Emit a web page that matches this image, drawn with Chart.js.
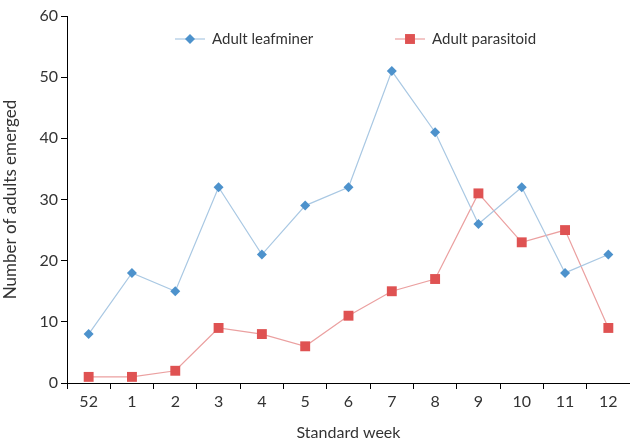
<!DOCTYPE html>
<html><head><meta charset="utf-8">
<script src="https://cdn.jsdelivr.net/npm/chart.js@4"></script>
<style>html,body{margin:0;padding:0;background:#fff}#wrap{width:630px;height:442px;position:relative}</style>
</head><body><div id="wrap"><canvas id="c" width="630" height="442"></canvas></div>
<script>
const weeks = ['52','1','2','3','4','5','6','7','8','9','10','11','12'];
const leafminer = [8,18,15,32,21,29,32,51,41,26,32,18,21];
const parasitoid = [1,1,2,9,8,6,11,15,17,31,23,25,9];
const yTicks = [0,10,20,30,40,50,60];
const seriesNames = ['Adult leafminer','Adult parasitoid'];

const FONT = 'Lato, "Open Sans", sans-serif';
const TXT = '#333';

const legendPlugin = {
  id: 'customLegend',
  afterDraw(chart) {
    const ctx = chart.ctx;
    const items = [
      {x: 175, ds: chart.data.datasets[0]},
      {x: 395, ds: chart.data.datasets[1]}
    ];
    const y = 39;
    ctx.save();
    items.forEach(it => {
      ctx.strokeStyle = it.ds.borderColor;
      ctx.lineWidth = 1.2;
      ctx.beginPath(); ctx.moveTo(it.x, y); ctx.lineTo(it.x + 30, y); ctx.stroke();
      ctx.fillStyle = it.ds.pointBackgroundColor;
      ctx.strokeStyle = it.ds.pointBackgroundColor;
      Chart.helpers.drawPoint(ctx, {pointStyle: it.ds.pointStyle, radius: it.ds.pointRadius, rotation: 0, borderWidth: 0}, it.x + 15, y);
      ctx.fillStyle = TXT;
      ctx.font = '15px ' + FONT;
      ctx.textBaseline = 'middle';
      ctx.textAlign = 'left';
      ctx.fillText(it.ds.label, it.x + 37, y);
    });
    ctx.restore();
  }
};

new Chart(document.getElementById('c'), {
  type: 'line',
  data: {
    labels: weeks,
    datasets: [
      {label: seriesNames[0], data: leafminer, borderColor: '#a9c8e3', borderWidth: 1.2,
       pointStyle: 'rectRot', pointRadius: 5, pointBackgroundColor: '#4d92cc', pointBorderColor: '#4d92cc', pointBorderWidth: 0},
      {label: seriesNames[1], data: parasitoid, borderColor: '#eba0a0', borderWidth: 1.2,
       pointStyle: 'rect', pointRadius: 7, pointBackgroundColor: '#df5252', pointBorderColor: '#df5252', pointBorderWidth: 0}
    ]
  },
  options: {
    responsive: false, animation: false,
    layout: {autoPadding: false, padding: {top: 16, right: 0, left: 0, bottom: 0}},
    plugins: {legend: {display: false}, tooltip: {enabled: false}},
    scales: {
      x: {
        offset: true,
        grid: {display: true, drawOnChartArea: false, offset: true, color: '#000', tickLength: 6, tickWidth: 1},
        border: {display: true, color: '#000', width: 1},
        ticks: {color: TXT, font: {family: FONT, size: 16}, padding: 3, maxRotation: 0},
        title: {display: true, text: 'Standard week', color: TXT, font: {family: FONT, size: 16}, padding: {top: 10, bottom: 0}},
        afterFit(s) { s.height = 59; s.paddingLeft = 0; s.paddingRight = 0; }
      },
      y: {
        min: 0, max: 60,
        afterBuildTicks(s) { s.ticks = yTicks.map(v => ({value: v})); },
        grid: {display: true, drawOnChartArea: false, color: '#000', tickLength: 6, tickWidth: 1},
        border: {display: true, color: '#000', width: 1},
        ticks: {color: TXT, font: {family: FONT, size: 16}, padding: 3},
        title: {display: true, text: 'Number of adults emerged', color: TXT, font: {family: FONT, size: 17}, padding: {top: 0, bottom: 4}},
        afterFit(s) { s.width = 67; }
      }
    }
  },
  plugins: [legendPlugin]
});
</script></body></html>
